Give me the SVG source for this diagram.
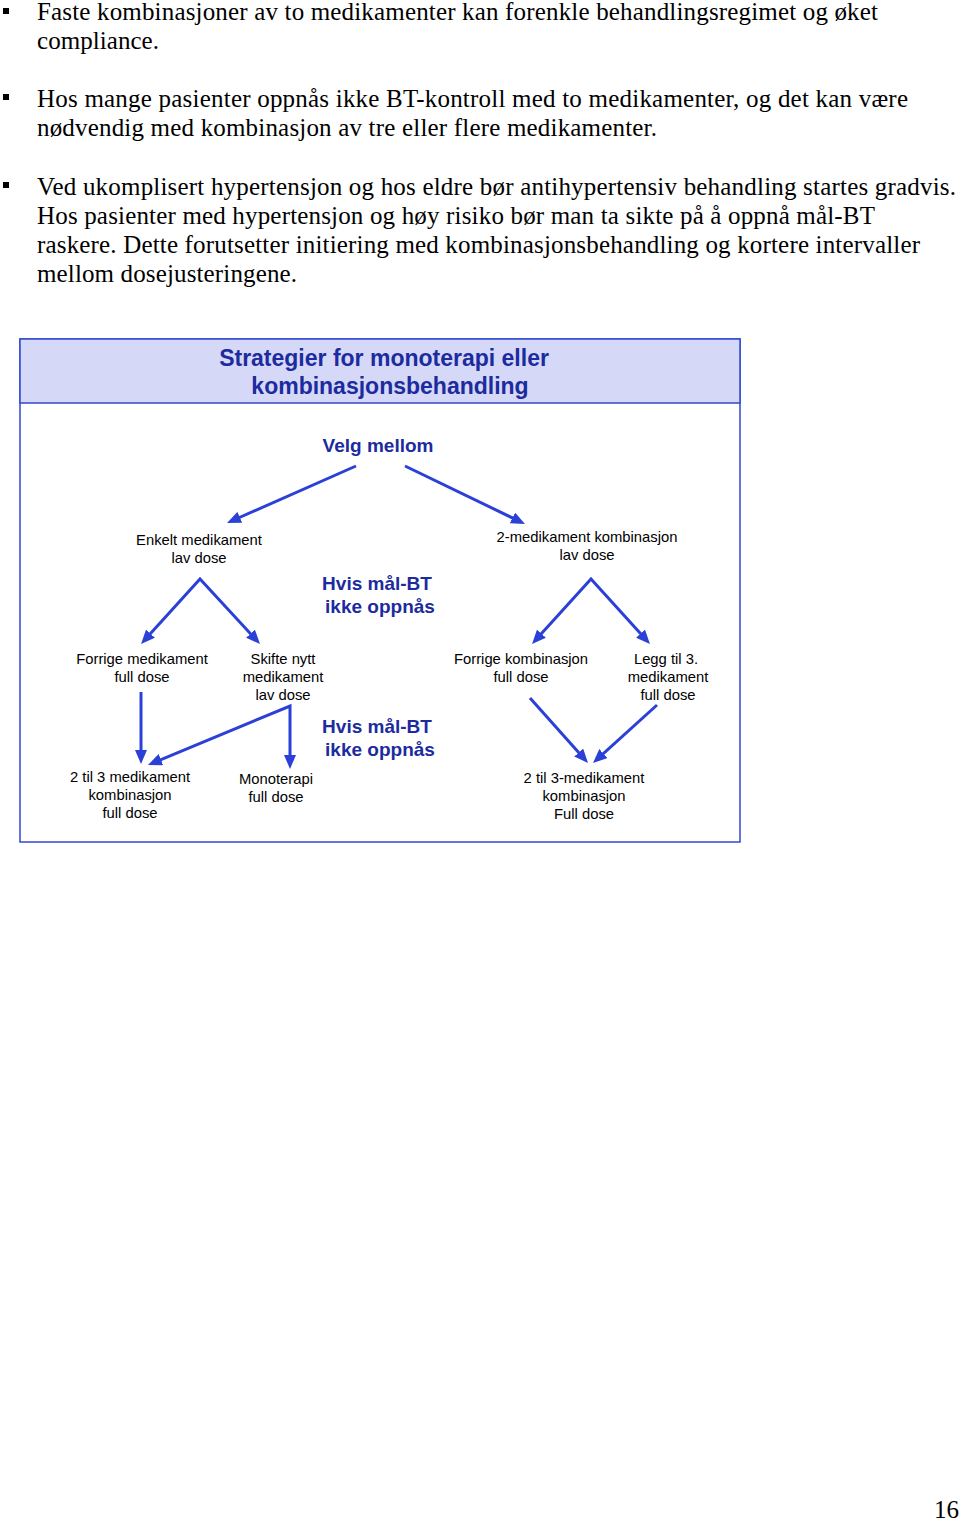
<svg xmlns="http://www.w3.org/2000/svg" width="960" height="1521" viewBox="0 0 960 1521">
<style>
.body{font-family:"Liberation Serif","Times New Roman",serif;font-size:25px;fill:#000}
.bul{fill:#000}
.title{font-family:"Liberation Sans",Arial,sans-serif;font-weight:bold;font-size:23px;fill:#1c2b9e;text-anchor:middle}
.hd{font-family:"Liberation Sans",Arial,sans-serif;font-weight:bold;font-size:19px;fill:#1c2b9e;text-anchor:middle}
.lbl{font-family:"Liberation Sans",Arial,sans-serif;font-size:14.8px;fill:#000;text-anchor:middle}
.arr{fill:none;stroke:#2b40d6;stroke-width:3;stroke-linejoin:miter}
</style>
<defs>
<marker id="ah" viewBox="0 0 14 12" refX="9" refY="6" markerWidth="14" markerHeight="12" markerUnits="userSpaceOnUse" orient="auto-start-reverse">
<path d="M0,0 L14,6 L0,12 z" fill="#2b40d6"/>
</marker>
</defs>
<rect width="960" height="1521" fill="#fff"/>
<g id="bullets">
<rect class="bul" x="3" y="8" width="6" height="6"/>
<rect class="bul" x="3" y="94" width="6" height="6"/>
<rect class="bul" x="3" y="182" width="6" height="6"/>
<text class="body" x="37" y="20" textLength="841" lengthAdjust="spacing">Faste kombinasjoner av to medikamenter kan forenkle behandlingsregimet og øket</text>
<text class="body" x="37" y="49" textLength="122" lengthAdjust="spacing">compliance.</text>
<text class="body" x="37" y="107" textLength="871" lengthAdjust="spacing">Hos mange pasienter oppnås ikke BT-kontroll med to medikamenter, og det kan være</text>
<text class="body" x="37" y="136" textLength="620" lengthAdjust="spacing">nødvendig med kombinasjon av tre eller flere medikamenter.</text>
<text class="body" x="37" y="195" textLength="919" lengthAdjust="spacing">Ved ukomplisert hypertensjon og hos eldre bør antihypertensiv behandling startes gradvis.</text>
<text class="body" x="37" y="224" textLength="838" lengthAdjust="spacing">Hos pasienter med hypertensjon og høy risiko bør man ta sikte på å oppnå mål-BT</text>
<text class="body" x="37" y="253" textLength="883" lengthAdjust="spacing">raskere. Dette forutsetter initiering med kombinasjonsbehandling og kortere intervaller</text>
<text class="body" x="37" y="282" textLength="260" lengthAdjust="spacing">mellom dosejusteringene.</text>
</g>
<g id="frame">
<rect x="20" y="339" width="720" height="503" fill="#fff" stroke="#3148cf" stroke-width="1.5"/>
<rect x="20" y="339" width="720" height="64" fill="#d5d8f7" stroke="#3148cf" stroke-width="1.5"/>
<text class="title" x="384" y="366">Strategier for monoterapi eller</text>
<text class="title" x="390" y="394">kombinasjonsbehandling</text>
</g>
<g id="velg"><text class="hd" x="378" y="452">Velg mellom</text></g>
<g id="hvis1"><text class="hd" x="377" y="590">Hvis mål-BT</text><text class="hd" x="380" y="613">ikke oppnås</text></g>
<g id="hvis2"><text class="hd" x="377" y="733">Hvis mål-BT</text><text class="hd" x="380" y="756">ikke oppnås</text></g>
<g id="enkelt"><text class="lbl" x="199" y="545">Enkelt medikament</text><text class="lbl" x="199" y="563">lav dose</text></g>
<g id="tomed"><text class="lbl" x="587" y="542">2-medikament kombinasjon</text><text class="lbl" x="587" y="560">lav dose</text></g>
<g id="forrigemed"><text class="lbl" x="142" y="664">Forrige medikament</text><text class="lbl" x="142" y="682">full dose</text></g>
<g id="skifte"><text class="lbl" x="283" y="664">Skifte nytt</text><text class="lbl" x="283" y="682">medikament</text><text class="lbl" x="283" y="700">lav dose</text></g>
<g id="forrigekomb"><text class="lbl" x="521" y="664">Forrige kombinasjon</text><text class="lbl" x="521" y="682">full dose</text></g>
<g id="legg"><text class="lbl" x="666" y="664">Legg til 3.</text><text class="lbl" x="668" y="682">medikament</text><text class="lbl" x="668" y="700">full dose</text></g>
<g id="tiltre"><text class="lbl" x="130" y="782">2 til 3 medikament</text><text class="lbl" x="130" y="800">kombinasjon</text><text class="lbl" x="130" y="818">full dose</text></g>
<g id="mono"><text class="lbl" x="276" y="784">Monoterapi</text><text class="lbl" x="276" y="802">full dose</text></g>
<g id="tiltre2"><text class="lbl" x="584" y="783">2 til 3-medikament</text><text class="lbl" x="584" y="801">kombinasjon</text><text class="lbl" x="584" y="819">Full dose</text></g>
<g id="connectors">
<line class="arr" x1="356" y1="466" x2="231.6" y2="521" marker-end="url(#ah)"/>
<line class="arr" x1="405" y1="466" x2="520.5" y2="521.8" marker-end="url(#ah)"/>
<polyline class="arr" points="144.4,640.3 200,579 256.6,640.3" marker-start="url(#ah)" marker-end="url(#ah)"/>
<polyline class="arr" points="535.4,640.3 591,579 646.6,640.3" marker-start="url(#ah)" marker-end="url(#ah)"/>
<line class="arr" x1="141" y1="692" x2="141" y2="759" marker-end="url(#ah)"/>
<polyline class="arr" points="152.6,763.1 290,706 290,764" marker-start="url(#ah)" marker-end="url(#ah)"/>
<line class="arr" x1="530" y1="698" x2="584.7" y2="759.3" marker-end="url(#ah)"/>
<line class="arr" x1="657" y1="705" x2="596.7" y2="759.6" marker-end="url(#ah)"/>
</g>
<text class="body" x="959" y="1518" text-anchor="end">16</text>
</svg>
